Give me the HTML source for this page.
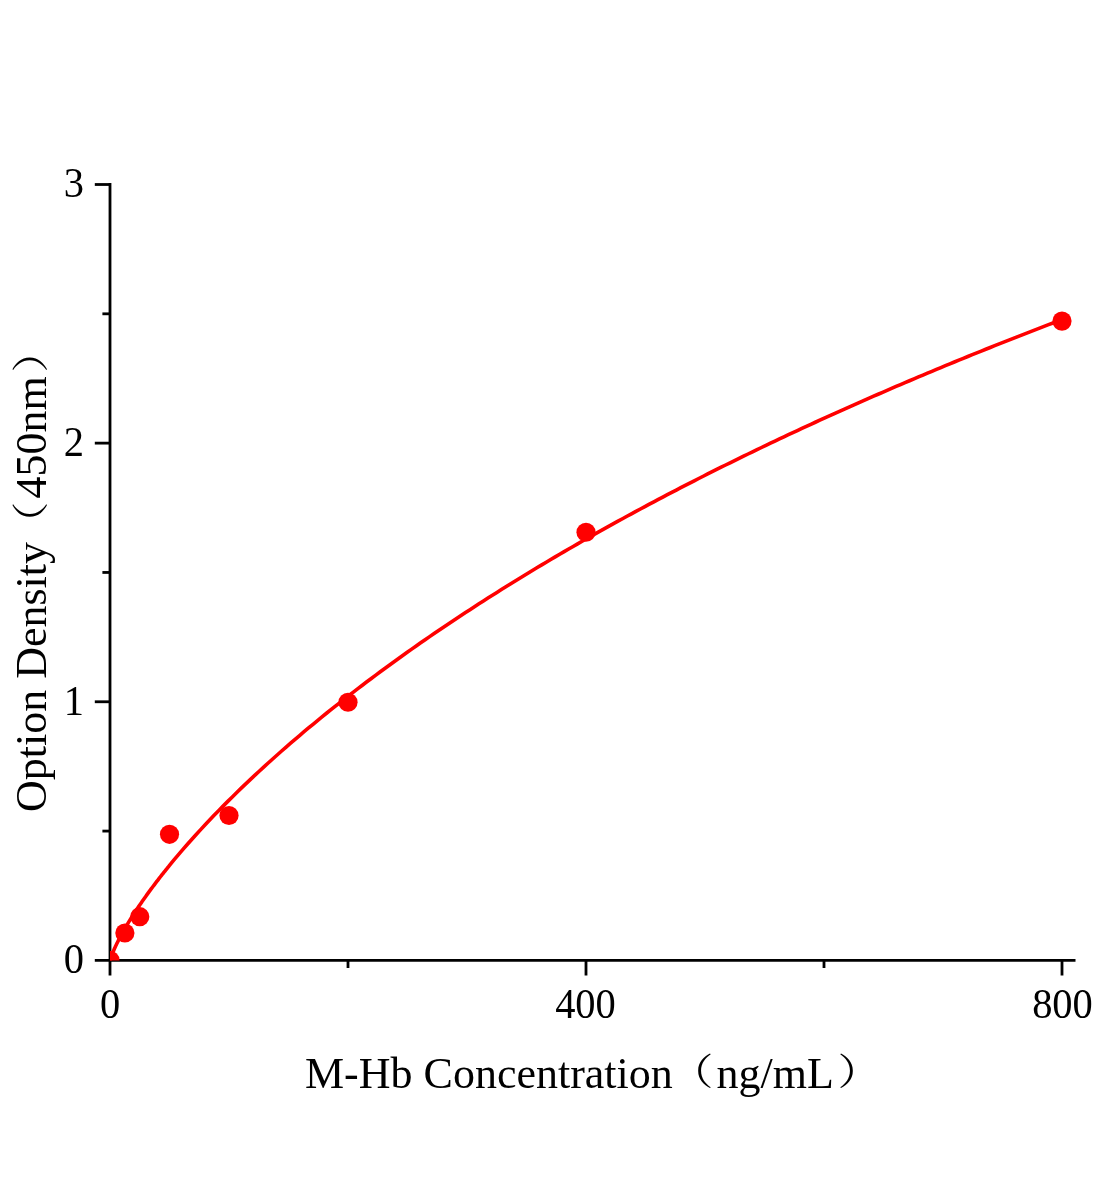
<!DOCTYPE html>
<html><head><meta charset="utf-8"><style>
html,body{margin:0;padding:0;background:#fff;}
body{width:1104px;height:1200px;overflow:hidden;}
svg{display:block;will-change:transform;}
text{font-family:"Liberation Serif","Noto Serif CJK SC",serif;fill:#000;}
text.cjk{font-family:"Noto Serif CJK SC","Liberation Serif",serif;}
</style></head><body>
<svg width="1104" height="1200" viewBox="0 0 1104 1200">
<rect width="1104" height="1200" fill="#fff"/>
<g stroke="#000" stroke-width="2.8" fill="none" stroke-linecap="butt">
<path d="M110,183.1 V975.5"/>
<path d="M94.8,960.4 H1075.5"/>
<path d="M94.8,184.50 H110"/>
<path d="M94.8,443.13 H110"/>
<path d="M94.8,701.77 H110"/>
<path d="M102.4,313.82 H110"/>
<path d="M102.4,572.45 H110"/>
<path d="M102.4,831.08 H110"/>
<path d="M586.00,960.4 V975.5"/>
<path d="M1062.00,960.4 V975.5"/>
<path d="M348.00,960.4 V968"/>
<path d="M824.00,960.4 V968"/>
</g>
<defs><clipPath id="pa"><rect x="110" y="150" width="1000" height="810.60"/></clipPath></defs>
<g clip-path="url(#pa)" fill="#f00">
<path d="M110.00,961.52 L110.21,960.39 L110.41,959.57 L110.62,958.84 L110.82,958.15 L111.03,957.50 L111.23,956.88 L111.44,956.28 L111.64,955.69 L111.85,955.13 L112.05,954.57 L112.26,954.03 L112.46,953.49 L112.67,952.97 L112.87,952.46 L113.08,951.95 L113.28,951.45 L113.49,950.96 L113.69,950.47 L113.90,949.99 L114.10,949.51 L114.31,949.04 L114.51,948.58 L114.72,948.12 L114.92,947.66 L115.13,947.21 L115.33,946.76 L115.54,946.31 L115.74,945.87 L115.95,945.43 L116.86,943.53 L117.77,941.69 L118.67,939.89 L119.58,938.13 L120.49,936.41 L121.40,934.73 L122.30,933.07 L123.21,931.44 L124.12,929.84 L125.03,928.26 L125.93,926.70 L126.84,925.17 L127.75,923.65 L128.66,922.15 L129.56,920.67 L130.47,919.20 L131.38,917.75 L132.29,916.32 L133.19,914.89 L134.10,913.49 L135.01,912.09 L135.92,910.71 L136.83,909.33 L137.73,907.97 L138.64,906.62 L139.55,905.28 L140.46,903.96 L141.36,902.64 L142.27,901.33 L143.18,900.03 L144.09,898.73 L144.99,897.45 L145.90,896.18 L146.81,894.91 L147.72,893.65 L148.62,892.40 L149.53,891.16 L150.44,889.92 L151.35,888.69 L152.26,887.47 L153.16,886.26 L154.07,885.05 L154.98,883.85 L155.89,882.65 L156.79,881.46 L157.70,880.28 L158.61,879.10 L159.52,877.93 L160.42,876.77 L161.33,875.61 L162.24,874.45 L163.15,873.30 L164.05,872.16 L164.96,871.02 L165.87,869.89 L166.78,868.76 L167.68,867.64 L168.59,866.52 L169.50,865.40 L173.98,859.97 L178.47,854.64 L182.95,849.41 L187.44,844.27 L191.92,839.21 L196.41,834.24 L200.89,829.34 L205.38,824.52 L209.86,819.76 L214.35,815.07 L218.83,810.45 L223.32,805.88 L227.80,801.37 L232.29,796.91 L236.77,792.51 L241.26,788.16 L245.74,783.86 L250.23,779.60 L254.71,775.40 L259.20,771.23 L263.68,767.11 L268.17,763.03 L272.65,758.99 L277.14,754.99 L281.62,751.02 L286.11,747.10 L290.59,743.21 L295.08,739.35 L299.56,735.53 L304.05,731.74 L308.53,727.99 L313.02,724.26 L317.50,720.57 L321.99,716.91 L326.47,713.27 L330.96,709.67 L335.44,706.09 L339.93,702.55 L344.41,699.02 L348.90,695.53 L353.38,692.06 L357.87,688.62 L362.35,685.20 L366.84,681.81 L371.32,678.44 L375.81,675.09 L380.29,671.77 L384.78,668.47 L389.26,665.19 L393.75,661.94 L398.23,658.70 L402.72,655.49 L407.20,652.30 L411.69,649.13 L416.17,645.98 L420.66,642.85 L425.14,639.73 L429.63,636.64 L434.11,633.57 L438.60,630.52 L443.08,627.48 L447.57,624.46 L452.05,621.46 L456.54,618.48 L461.02,615.52 L465.51,612.57 L469.99,609.64 L474.47,606.73 L478.96,603.83 L483.44,600.95 L487.93,598.08 L492.41,595.24 L496.90,592.40 L501.38,589.59 L505.87,586.78 L510.35,584.00 L514.84,581.22 L519.32,578.47 L523.81,575.72 L528.29,572.99 L532.78,570.28 L537.26,567.58 L541.75,564.89 L546.23,562.22 L550.72,559.56 L555.20,556.91 L559.69,554.28 L564.17,551.66 L568.66,549.05 L573.14,546.46 L577.63,543.88 L582.11,541.31 L586.60,538.75 L591.08,536.21 L595.57,533.68 L600.05,531.15 L604.54,528.65 L609.02,526.15 L613.51,523.66 L617.99,521.19 L622.48,518.73 L626.96,516.28 L631.45,513.84 L635.93,511.41 L640.42,508.99 L644.90,506.59 L649.39,504.19 L653.87,501.80 L658.36,499.43 L662.84,497.06 L667.33,494.71 L671.81,492.37 L676.30,490.03 L680.78,487.71 L685.27,485.40 L689.75,483.09 L694.24,480.80 L698.72,478.51 L703.21,476.24 L707.69,473.97 L712.18,471.72 L716.66,469.47 L721.15,467.23 L725.63,465.01 L730.12,462.79 L734.60,460.58 L739.09,458.38 L743.57,456.18 L748.06,454.00 L752.54,451.83 L757.03,449.66 L761.51,447.50 L765.99,445.35 L770.48,443.21 L774.96,441.08 L779.45,438.96 L783.93,436.84 L788.42,434.74 L792.90,432.64 L797.39,430.55 L801.87,428.47 L806.36,426.39 L810.84,424.32 L815.33,422.26 L819.81,420.21 L824.30,418.17 L828.78,416.13 L833.27,414.10 L837.75,412.08 L842.24,410.07 L846.72,408.06 L851.21,406.07 L855.69,404.07 L860.18,402.09 L864.66,400.11 L869.15,398.14 L873.63,396.18 L878.12,394.23 L882.60,392.28 L887.09,390.34 L891.57,388.40 L896.06,386.47 L900.54,384.55 L905.03,382.64 L909.51,380.73 L914.00,378.83 L918.48,376.93 L922.97,375.05 L927.45,373.16 L931.94,371.29 L936.42,369.42 L940.91,367.56 L945.39,365.70 L949.88,363.85 L954.36,362.01 L958.85,360.17 L963.33,358.34 L967.82,356.52 L972.30,354.70 L976.79,352.89 L981.27,351.08 L985.76,349.28 L990.24,347.49 L994.73,345.70 L999.21,343.92 L1003.70,342.14 L1008.18,340.37 L1012.67,338.60 L1017.15,336.84 L1021.64,335.09 L1026.12,333.34 L1030.61,331.60 L1035.09,329.86 L1039.58,328.13 L1044.06,326.41 L1048.55,324.68 L1053.03,322.97 L1057.52,321.26 L1062.00,319.56" fill="none" stroke="#f00" stroke-width="3.6" stroke-linejoin="round"/>
<circle cx="110.00" cy="960.40" r="9.6"/>
<circle cx="124.88" cy="933.00" r="9.6"/>
<circle cx="139.75" cy="916.69" r="9.6"/>
<circle cx="169.50" cy="834.28" r="9.6"/>
<circle cx="229.00" cy="815.48" r="9.6"/>
<circle cx="348.00" cy="702.27" r="9.6"/>
<circle cx="586.00" cy="532.24" r="9.6"/>
<circle cx="1062.00" cy="321.12" r="9.6"/>
</g>
<g font-size="40.5">
<text transform="translate(84,973.3) scale(1,1.035)" text-anchor="end">0</text>
<text transform="translate(84,714.8) scale(1,1.035)" text-anchor="end">1</text>
<text transform="translate(84,455.6) scale(1,1.035)" text-anchor="end">2</text>
<text transform="translate(84,196.8) scale(1,1.035)" text-anchor="end">3</text>
<text transform="translate(110,1017.5) scale(1,1.035)" text-anchor="middle">0</text>
<text transform="translate(585.5,1017.5) scale(1,1.035)" text-anchor="middle">400</text>
<text transform="translate(1062.5,1017.5) scale(1,1.035)" text-anchor="middle">800</text>
</g>
<g font-size="44" transform="translate(305.9,1087.7)">
<text transform="scale(1,1.025)" x="-0.9" y="0">M-Hb Concentration</text><text class="cjk" transform="translate(363.50,-2.3) scale(1,0.84)">（</text><text transform="scale(1,1.025)" x="410.60" y="0">ng/mL</text><text class="cjk" transform="translate(531.54,-2.3) scale(1,0.84)">）</text>
</g>
<g font-size="44" transform="translate(46.4,810.5) rotate(-90)">
<text transform="scale(1,1.025)" x="-1.5" y="0">Option Density</text><text class="cjk" transform="translate(264.90,-2.3) scale(1,0.84)">（</text><text transform="scale(1,1.025)" x="311.90" y="0">450nm</text><text class="cjk" transform="translate(437.64,-2.3) scale(1,0.84)">）</text>
</g>
</svg>
</body></html>
